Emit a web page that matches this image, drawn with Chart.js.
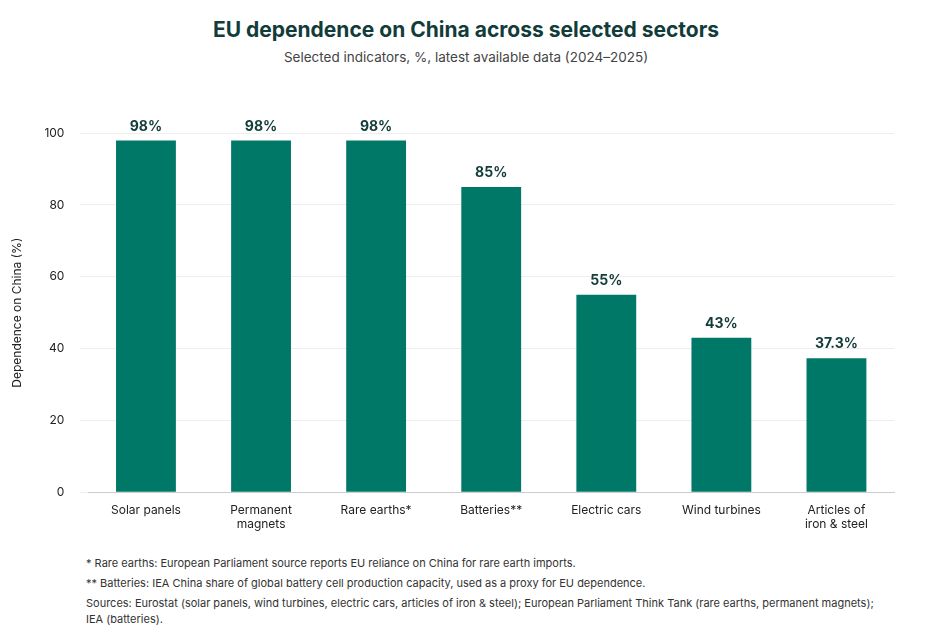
<!DOCTYPE html>
<html><head><meta charset="utf-8">
<script src="https://cdn.jsdelivr.net/npm/chart.js@4"></script>
<style>
body{margin:0;background:#fff;font-family:Inter,sans-serif;width:932px;height:641px;overflow:hidden;position:relative}
#t{position:absolute;top:17px;width:100%;text-align:center;font-size:21px;font-weight:700;color:#123c3a}
#s{position:absolute;top:49px;width:100%;text-align:center;font-size:13.5px;color:#444}
#box{position:absolute;left:0;top:110px;width:932px;height:425px}
#notes{position:absolute;left:86px;top:554px;font-size:11px;color:#333;line-height:19.5px;width:800px}
</style></head><body>
<div id="t">EU dependence on China across selected sectors</div>
<div id="s">Selected indicators, %, latest available data (2024–2025)</div>
<div id="box"><canvas id="myChart"></canvas></div>
<div id="notes">* Rare earths: European Parliament source reports EU reliance on China for rare earth imports.<br>
** Batteries: IEA China share of global battery cell production capacity, used as a proxy for EU dependence.<br>
<span style="line-height:16px;display:block;margin-top:2px">Sources: Eurostat (solar panels, wind turbines, electric cars, articles of iron &amp; steel); European Parliament Think Tank (rare earths, permanent magnets); IEA (batteries).</span></div>
<script>
const sectors = ['Solar panels', ['Permanent','magnets'], 'Rare earths*', 'Batteries**', 'Electric cars', 'Wind turbines', ['Articles of','iron & steel']];
const shares = [98, 98, 98, 85, 55, 43, 37.3];
const shareLabels = ['98%', '98%', '98%', '85%', '55%', '43%', '37.3%'];

const barLabels = {
  id: 'barLabels',
  afterDatasetsDraw(chart) {
    const c = chart.ctx;
    c.save();
    c.font = '700 14px Inter';
    c.fillStyle = '#123c3a';
    c.textAlign = 'center';
    c.textBaseline = 'bottom';
    chart.getDatasetMeta(0).data.forEach((b, i) => c.fillText(shareLabels[i], b.x, b.y - 7));
    c.restore();
  }
};

new Chart(document.getElementById('myChart'), {
  type: 'bar',
  data: { labels: sectors, datasets: [{ data: shares, backgroundColor: '#007868', barPercentage: 0.52, categoryPercentage: 1 }] },
  options: {
    responsive: true, maintainAspectRatio: false, animation: false,
    layout: { padding: { left: 6, right: 38, top: 0 } },
    plugins: { legend: { display: false }, tooltip: { enabled: false } },
    scales: {
      x: { grid: { display: false }, border: { color: '#ccc' },
           ticks: { color: '#222', font: { family: 'Inter', size: 12 } } },
      y: { min: 0, max: 100, ticks: { stepSize: 20, color: '#222', padding: 16, font: { family: 'Inter', size: 12 } },
           grid: { color: '#eee' }, border: { display: false },
           title: { display: true, text: 'Dependence on China (%)', color: '#222', font: { family: 'Inter', size: 12 } } }
    }
  },
  plugins: [barLabels]
});
</script>
</body></html>
